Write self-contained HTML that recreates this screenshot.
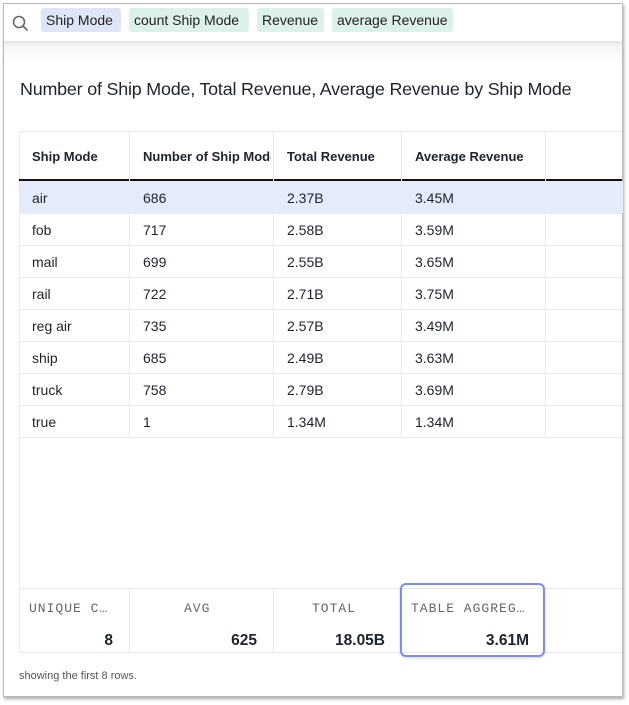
<!DOCTYPE html>
<html><head><style>
*{box-sizing:border-box;margin:0;padding:0}
body{width:629px;height:705px;background:#fff;font-family:"Liberation Sans",sans-serif;position:relative;overflow:hidden}
.frame{position:absolute;left:3px;top:3px;width:620px;height:694px;border:1px solid #bbb;box-shadow:1px 2px 3px rgba(0,0,0,.35);background:#fff;overflow:hidden}
.bar{position:absolute;left:0;top:0;width:100%;height:37px;background:#fff;box-shadow:0 2px 3px rgba(0,0,0,.08)}
.grad{position:absolute;left:0;top:37px;width:100%;height:22px;background:linear-gradient(#f1f2f4,#fff)}
.chip{position:absolute;top:4px;height:24px;line-height:24px;font-size:14px;color:#222;border-radius:3px;padding:0 5px}
.title{position:absolute;left:16px;top:75px;font-size:17.9px;color:#1d232f;letter-spacing:-.2px}
.cell{position:absolute;font-size:14px;color:#1d232f}
.hd{font-weight:bold;font-size:13px}
.vl{position:absolute;width:1px;background:#e8eaee}
.hl{position:absolute;height:1px;background:#e8eaee}
.mono{position:absolute;font-family:"Liberation Mono",monospace;font-size:13px;color:#666;letter-spacing:1px}
.big{position:absolute;font-weight:bold;font-size:15.5px;color:#1d232f;text-align:right}
</style></head><body>
<div class="frame">
<div class="grad"></div>
<div class="bar">
<svg style="position:absolute;left:8px;top:11px" width="18" height="18"><circle cx="7" cy="7" r="5.5" fill="none" stroke="#666" stroke-width="1.6"/><line x1="11" y1="11" x2="15.5" y2="15.5" stroke="#666" stroke-width="1.6"/></svg>
<div class="chip" style="left:37px;width:80px;background:#dde6f7">Ship Mode</div>
<div class="chip" style="left:125px;width:120px;background:#dcf1ea">count Ship Mode</div>
<div class="chip" style="left:253px;width:67px;background:#dcf1ea">Revenue</div>
<div class="chip" style="left:328px;width:121px;background:#dcf1ea">average Revenue</div>
</div>
<div class="title">Number of Ship Mode, Total Revenue, Average Revenue by Ship Mode</div>
</div>
<div style="position:absolute;left:19px;top:131px;width:603px;height:522px;border-left:1px solid #e8eaee;border-top:1px solid #e8eaee;border-bottom:1px solid #e8eaee"></div>
<div style="position:absolute;left:19px;top:179px;width:603px;height:2px;background:#111"></div>
<div style="position:absolute;left:20px;top:181px;width:603px;height:32px;background:#e4ebfa"></div>
<div class="vl" style="left:129px;top:131px;height:307px"></div>
<div class="vl" style="left:273px;top:131px;height:307px"></div>
<div class="vl" style="left:401px;top:131px;height:307px"></div>
<div class="vl" style="left:545px;top:131px;height:307px"></div>
<div class="vl" style="left:129px;top:589px;height:64px"></div>
<div class="vl" style="left:273px;top:589px;height:64px"></div>
<div class="hl" style="left:19px;top:588px;width:603px"></div>
<div class="cell hd" style="left:32px;top:149px">Ship Mode</div>
<div class="cell hd" style="left:143px;top:149px;width:128px;overflow:hidden;white-space:nowrap">Number of Ship Mode</div>
<div class="cell hd" style="left:287px;top:149px">Total Revenue</div>
<div class="cell hd" style="left:415px;top:149px">Average Revenue</div>
<div id="rows"></div>
<script>
var d=[["air",686,"2.37B","3.45M"],["fob",717,"2.58B","3.59M"],["mail",699,"2.55B","3.65M"],["rail",722,"2.71B","3.75M"],["reg air",735,"2.57B","3.49M"],["ship",685,"2.49B","3.63M"],["truck",758,"2.79B","3.69M"],["true",1,"1.34M","1.34M"]];
var h="",xs=[32,143,287,415];
d.forEach(function(r,i){var y=181+i*32;h+='<div class="hl" style="left:19px;top:'+(y+32)+'px;width:603px"></div>';r.forEach(function(v,j){h+='<div class="cell" style="left:'+xs[j]+'px;top:'+(y+9)+'px">'+v+'</div>'});});
document.getElementById("rows").innerHTML=h;
</script>
<div class="mono" style="left:29px;top:601px">UNIQUE C…</div>
<div class="mono" style="left:184px;top:601px">AVG</div>
<div class="mono" style="left:312px;top:601px">TOTAL</div>
<div class="mono" style="left:411px;top:601px">TABLE AGGREG…</div>
<div class="big" style="left:20px;width:93px;top:632px">8</div>
<div class="big" style="left:130px;width:127px;top:632px">625</div>
<div class="big" style="left:274px;width:111px;top:632px">18.05B</div>
<div class="big" style="left:402px;width:127px;top:632px">3.61M</div>
<div style="position:absolute;left:400px;top:583px;width:145px;height:74px;border:2px solid #7e8cf2;border-radius:6px;box-shadow:0 1px 3px rgba(0,0,0,.15)"></div>
<div style="position:absolute;left:19px;top:670px;font-size:11px;color:#555">showing the first 8 rows.</div>
</body></html>
